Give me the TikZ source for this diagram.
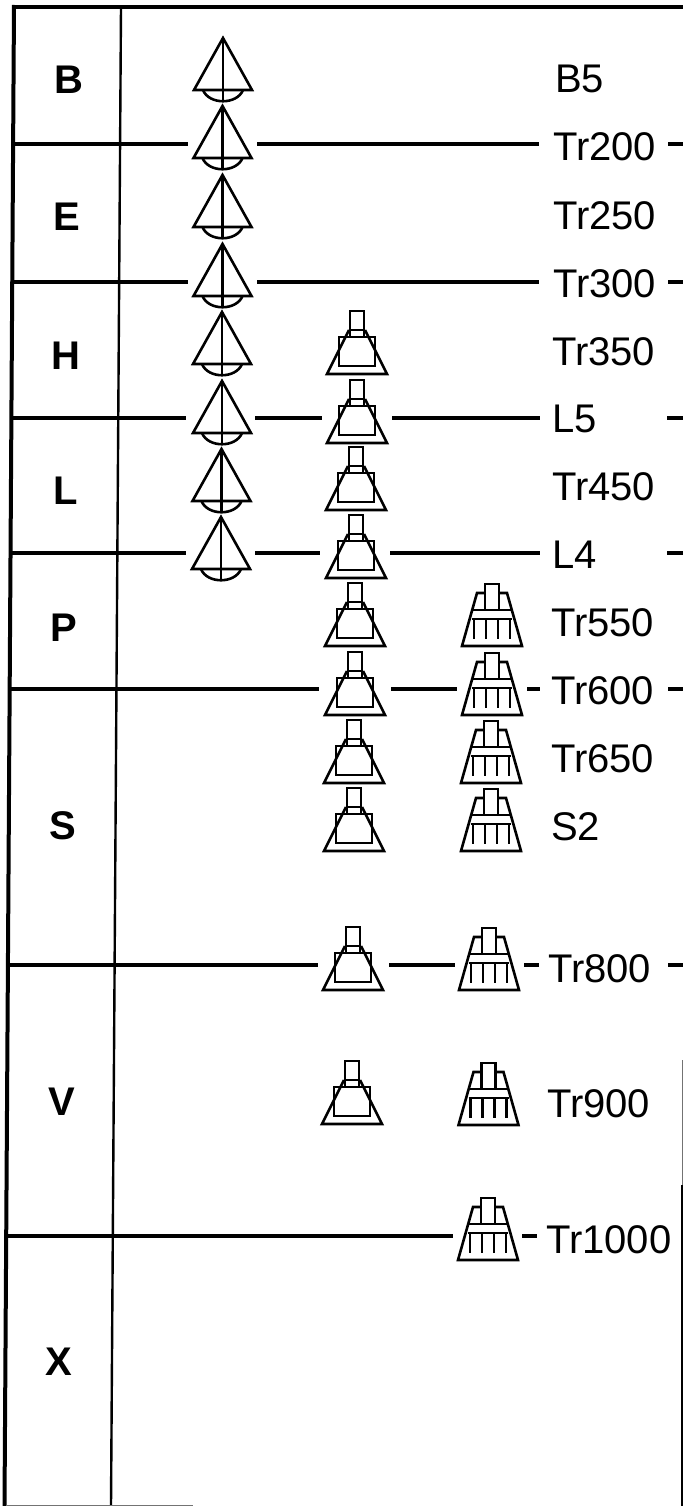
\documentclass[tikz,border=0pt]{standalone}
\usepackage{fontspec}
\setmainfont{Liberation Sans}
\tikzset{
  x=1pt,y=-1pt,
  icon/.style={line width=2.6pt,line join=miter,draw=black},
  rule/.style={line width=4pt,draw=black},
  frame/.style={line width=4pt,draw=black},
  divider/.style={line width=2.4pt,draw=black},
  scanedge/.style={line width=1.2pt,draw=black!55},
  tag/.style={anchor=base west,inner sep=0pt,font=\fontsize{40}{44}\selectfont},
  zone/.style={anchor=base,inner sep=0pt,font=\fontsize{40}{44}\selectfont\bfseries},
  conepic/.pic={
    \draw[icon] (0,-52) -- (-29,0) -- (29,0) -- cycle;
    \draw[icon] (0,-52) -- (0,11);
    \draw[icon] (-20,0) .. controls (-14,15) and (14,15) .. (20,0);
  },
  blockpic/.pic={
    \draw[icon] (-8,-44) -- (-30,0) -- (30,0) -- (8,-44);
    \draw[icon] (-18,-37) rectangle (18,-8);
    \draw[icon] (-7,-37) -- (-7,-63) -- (7,-63) -- (7,-37);
    \draw[icon] (-7,-44) -- (7,-44);
  },
  rakepic/.pic={
    \draw[icon] (-30,0) -- (30,0) -- (15,-53) -- (-15,-53) -- cycle;
    \draw[icon,fill=white] (-7,-36) -- (-7,-62) -- (7,-62) -- (7,-36);
    \draw[icon] (-20,-36) -- (20,-36);
    \draw[icon] (-20,-27) -- (20,-27);
    \foreach \t in {-18,-6,6,18} \draw[line width=2.3pt] (\t,-27) -- (\t,-7);
  }
}
\begin{document}
\begin{tikzpicture}
\useasboundingbox (0,0) rectangle (683,1506);
% frame
\draw[frame] (14,7) -- (683,7);
\draw[frame] (14,5) -- (4.5,1506);
\draw[divider] (121,7) -- (111,1506);
\draw[scanedge] (6,1505.4) -- (193,1505.4);
\draw[scanedge] (682.4,1060) -- (682.4,1185);
\draw[line width=1.6pt] (682.2,1185) -- (682.2,1506);
% horizontal rules
\draw[rule] (13,144) -- (188,144) (257,144) -- (539,144) (668,144) -- (683,144);
\draw[rule] (11,282) -- (188,282) (257,282) -- (539,282) (668,282) -- (683,282);
\draw[rule] (10,418) -- (186,418) (255,418) -- (322,418) (392,418) -- (540,418) (667,418) -- (683,418);
\draw[rule] (9,553) -- (186,553) (255,553) -- (320,553) (390,553) -- (540,553) (667,553) -- (683,553);
\draw[rule] (8,689) -- (319,689) (391,689) -- (457,689) (527,689) -- (540,689) (668,689) -- (683,689);
\draw[rule] (7,965) -- (318,965) (389,965) -- (455,965) (524,965) -- (539,965) (668,965) -- (683,965);
\draw[rule] (6,1236) -- (453,1236) (522,1236) -- (537,1236);
% cones
\pic at (223,90) {conepic};
\pic at (222.5,158) {conepic};
\pic at (222.5,227) {conepic};
\pic at (222.5,296) {conepic};
\pic at (222,364) {conepic};
\pic at (222,433) {conepic};
\pic at (221.5,501) {conepic};
\pic at (221,569) {conepic};
% blocks
\pic at (357,374) {blockpic};
\pic at (357,443) {blockpic};
\pic at (356,510) {blockpic};
\pic at (356,578) {blockpic};
\pic at (355,646) {blockpic};
\pic at (355,715) {blockpic};
\pic at (354,783) {blockpic};
\pic at (354,851) {blockpic};
\pic at (353,990) {blockpic};
\pic at (352,1124) {blockpic};
% rakes
\pic at (492,646) {rakepic};
\pic at (492,715) {rakepic};
\pic at (491,783) {rakepic};
\pic at (491,851) {rakepic};
\pic at (489,990) {rakepic};
\pic at (488.5,1125) {rakepic};
\pic at (488,1260) {rakepic};
% right labels
\node[tag] (tb5) at (555,93) {B5};
\node[tag] (t200) at (553,161) {Tr200};
\node[tag] (t250) at (553,230) {Tr250};
\node[tag] (t300) at (553,297) {Tr300};
\node[tag] (t350) at (552,365) {Tr350};
\node[tag] (tl5) at (552,432) {L5};
\node[tag] (t450) at (552,500) {Tr450};
\node[tag] (tl4) at (552,568) {L4};
\node[tag] (t550) at (551,636) {Tr550};
\node[tag] (t600) at (551,704) {Tr600};
\node[tag] (t650) at (551,772) {Tr650};
\node[tag] (ts2) at (551,840) {S2};
\node[tag] (t800) at (548,982) {Tr800};
\node[tag] (t900) at (547,1117) {Tr900};
\node[tag] (t1000) at (546,1253) {Tr1000};
% zone letters
\node[zone] (zb) at (69,94) {B};
\node[zone] (ze) at (67,231) {E};
\node[zone] (zh) at (66,369) {H};
\node[zone] (zl) at (66,504) {L};
\node[zone] (zp) at (64,641) {P};
\node[zone] (zs) at (63,839) {S};
\node[zone] (zv) at (62,1115) {V};
\node[zone] (zx) at (59,1375) {X};
\end{tikzpicture}
\end{document}
